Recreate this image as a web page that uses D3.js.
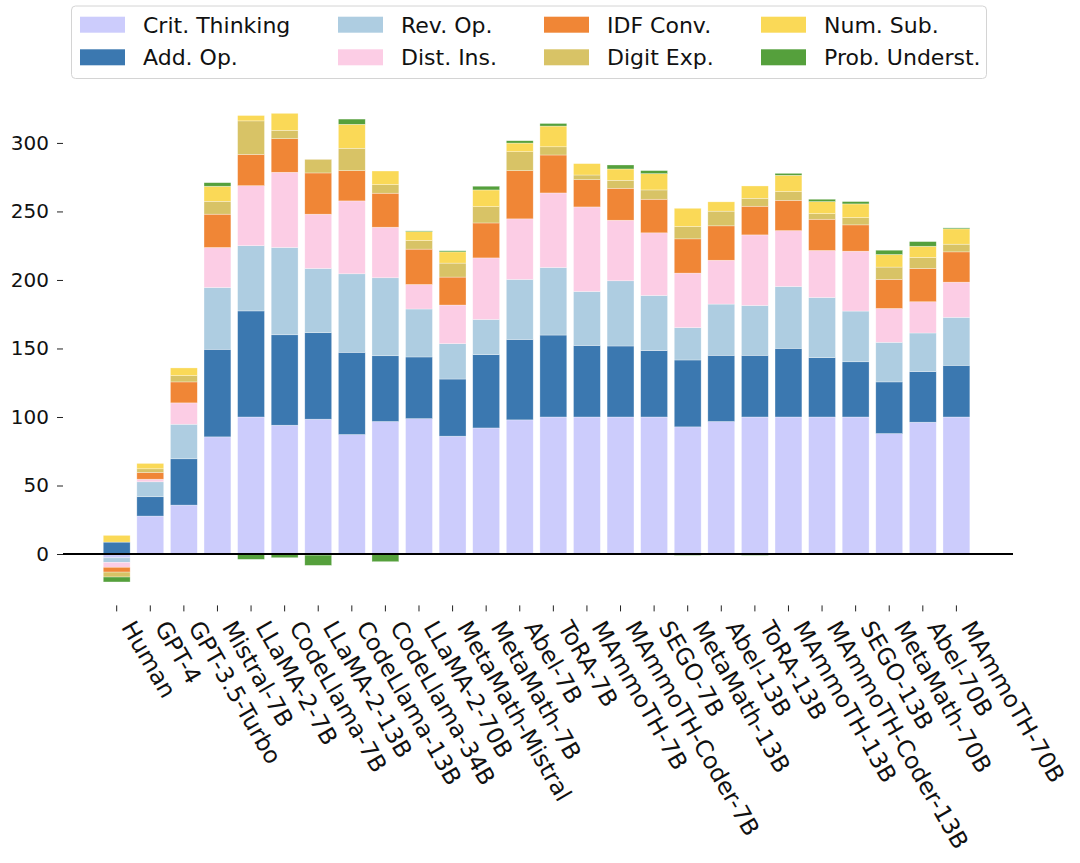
<!DOCTYPE html>
<html>
<head>
<meta charset="utf-8">
<script src="https://cdn.jsdelivr.net/npm/d3@7"></script>
<style>
  html, body { margin: 0; padding: 0; background: #fff; }
  svg { display: block; font-family: "DejaVu Sans", sans-serif; }
</style>
</head>
<body>
<svg id="chart" width="1080" height="863"></svg>
<script>
// ---------------- data ----------------
const models = ["Human", "GPT-4", "GPT-3.5-Turbo", "Mistral-7B", "LLaMA-2-7B", "CodeLlama-7B",
  "LLaMA-2-13B", "CodeLlama-13B", "CodeLlama-34B", "LLaMA-2-70B", "MetaMath-Mistral", "MetaMath-7B",
  "Abel-7B", "ToRA-7B", "MAmmoTH-7B", "MAmmoTH-Coder-7B", "SEGO-7B", "MetaMath-13B", "Abel-13B",
  "ToRA-13B", "MAmmoTH-13B", "MAmmoTH-Coder-13B", "SEGO-13B", "MetaMath-70B", "Abel-70B", "MAmmoTH-70B"];

const seriesNames = ["Crit. Thinking", "Add. Op.", "Rev. Op.", "Dist. Ins.", "IDF Conv.", "Digit Exp.", "Num. Sub.", "Prob. Underst."];
const seriesColors = ["#ccccfc", "#3b78b0", "#aecde1", "#fccde5", "#f08636", "#d8c366", "#fad957", "#55a03c"];

const critThinking = [-2.8, 27.7, 35.7, 85.5, 100, 94.0, 98.4, 87.2, 96.7, 98.8, 86.0, 92.0, 97.9, 100, 100, 100, 100, 92.8, 96.7, 100, 100, 100, 100, 87.9, 96.2, 100];
const addOp        = [8.7, 14.1, 33.8, 63.9, 77.4, 66.0, 63.1, 60.0, 48.0, 45.0, 41.7, 53.5, 58.7, 59.8, 52.2, 51.8, 48.4, 48.8, 48.3, 45.0, 50.1, 43.3, 40.3, 37.7, 36.9, 37.7];
const revOp        = [-3.3, 10.9, 25.2, 45.1, 47.6, 63.7, 46.9, 57.3, 56.9, 35.0, 25.8, 25.7, 43.8, 49.3, 39.4, 47.6, 40.3, 23.6, 37.4, 36.4, 45.1, 43.9, 37.0, 28.9, 28.2, 35.0];
const distIns      = [-3.6, 1.9, 15.6, 29.2, 43.8, 54.9, 39.6, 53.2, 36.9, 17.9, 28.2, 44.9, 44.2, 54.4, 61.7, 44.2, 45.7, 39.8, 32.0, 51.5, 40.8, 34.3, 43.7, 24.7, 22.8, 25.7];
const idfConv      = [-3.5, 4.9, 15.3, 24.3, 22.8, 24.5, 30.1, 22.1, 24.8, 25.8, 20.4, 25.5, 35.2, 27.7, 19.9, 23.3, 24.5, 25.0, 25.1, 20.9, 22.1, 22.8, 19.2, 21.2, 24.3, 22.1];
const digitExp     = [-3.6, 2.7, 4.6, 9.4, 24.5, 6.1, 9.9, 16.3, 6.3, 6.3, 10.2, 11.9, 13.8, 6.0, 3.4, 5.8, 6.8, 9.0, 10.7, 5.8, 6.4, 4.1, 5.3, 9.0, 8.0, 5.6];
const numSub       = [4.9, 3.9, 5.6, 11.0, 3.9, 12.4, -0.8, 17.5, 9.9, 6.5, 8.2, 12.2, 6.3, 15.1, 8.3, 8.3, 11.9, 13.3, 6.8, 9.0, 11.9, 8.8, 10.0, 9.2, 8.2, 11.2];
const probUnderst  = [-3.6, 0, 0, 2.6, -3.9, -2.7, -7.5, 3.8, -5.6, 0.5, 0.8, 2.7, 1.7, 1.9, 0, 2.9, 2.2, -1.0, 0, -1.0, 1.4, 1.7, 1.7, 3.1, 3.4, 0.7];

const yTicks = [0, 50, 100, 150, 200, 250, 300];

// ---------------- build table ----------------
const seriesValues = [critThinking, addOp, revOp, distIns, idfConv, digitExp, numSub, probUnderst];
const table = models.map((m, i) => {
  const row = { model: m };
  seriesNames.forEach((s, k) => { row[s] = seriesValues[k][i]; });
  return row;
});

const stacked = d3.stack()
  .keys(seriesNames)
  .offset(d3.stackOffsetDiverging)(table);

// ---------------- layout ----------------
const svg = d3.select("#chart");
const plotLeft = 63, plotRight = 1013;

const x = d3.scaleBand()
  .domain(models)
  .range([99.9, 973.2])
  .paddingInner(0.2)
  .paddingOuter(0.1);

const y = d3.scaleLinear()
  .domain([-37.5, 338.7])
  .range([605.4, 89.9]);

const color = d3.scaleOrdinal().domain(seriesNames).range(seriesColors);

// bars
const gBars = svg.append("g");
gBars.selectAll("g.series")
  .data(stacked)
  .join("g")
  .attr("class", "series")
  .attr("fill", d => color(d.key))
  .selectAll("rect")
  .data(d => d)
  .join("rect")
  .attr("x", d => x(d.data.model))
  .attr("width", x.bandwidth())
  .attr("y", d => y(Math.max(d[0], d[1])))
  .attr("height", d => Math.abs(y(d[0]) - y(d[1])))
  .attr("stroke", "#ffffff")
  .attr("stroke-width", 0.6)
  .attr("stroke-opacity", 0.5);

// zero line
svg.append("line")
  .attr("x1", plotLeft).attr("x2", plotRight)
  .attr("y1", y(0)).attr("y2", y(0))
  .attr("stroke", "#000").attr("stroke-width", 2);

// y axis
const yAxis = d3.axisLeft(y).tickValues(yTicks).tickSize(6).tickPadding(8).tickFormat(d3.format("d"));
const gy = svg.append("g").attr("transform", `translate(${plotLeft},0)`).call(yAxis);
gy.select(".domain").remove();
gy.selectAll(".tick line").attr("stroke", "#222").attr("stroke-width", 1);
gy.selectAll(".tick text").attr("fill", "#111").style("font-size", "20px")
  .style("font-family", "DejaVu Sans, sans-serif");

// x axis
const xAxis = d3.axisBottom(x).tickSize(6).tickPadding(0);
const gx = svg.append("g").attr("transform", `translate(0,${y(-37.5)})`).call(xAxis);
gx.select(".domain").remove();
gx.selectAll(".tick line").attr("stroke", "#222").attr("stroke-width", 1);
gx.selectAll(".tick text")
  .attr("fill", "#111")
  .style("font-size", "23.4px")
  .style("font-family", "DejaVu Sans, sans-serif")
  .attr("text-anchor", "start")
  .attr("dy", null)
  .attr("y", null)
  .attr("transform", "translate(4,21.5) rotate(60)");

// legend
const legend = svg.append("g");
legend.append("rect")
  .attr("x", 71.5).attr("y", 6).attr("width", 915).attr("height", 72.5)
  .attr("rx", 4).attr("fill", "#fff").attr("fill-opacity", 0.8)
  .attr("stroke", "#d4d4d4").attr("stroke-width", 1);
const colX = [80, 338, 544, 761];
const rowY = [16.7, 49.3];
seriesNames.forEach((s, k) => {
  const c = Math.floor(k / 2), r = k % 2;
  legend.append("rect")
    .attr("x", colX[c]).attr("y", rowY[r]).attr("width", 45).attr("height", 16)
    .attr("fill", color(s));
  legend.append("text")
    .attr("x", colX[c] + 63).attr("y", rowY[r] + 16)
    .attr("fill", "#111")
    .style("font-size", "22px")
    .text(s);
});
</script>
</body>
</html>
